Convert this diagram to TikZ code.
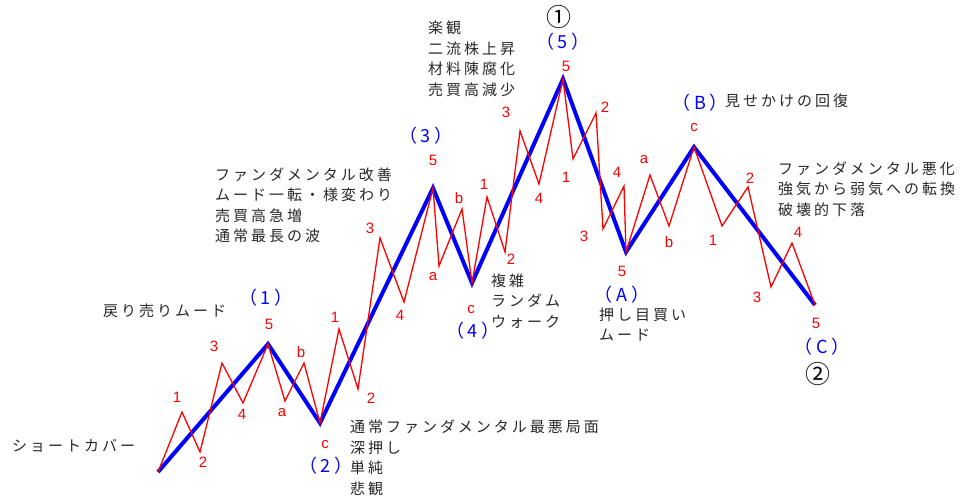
\documentclass[tikz,border=0pt]{standalone}
\usepackage{fontspec}
\usetikzlibrary{positioning}
\newfontfamily\jpfont[LetterSpace=20]{Noto Sans CJK JP}
\newfontfamily\numfont{Liberation Sans}
\definecolor{txtgray}{RGB}{40,40,40}
\tikzset{
  trend/.style={blue, line width=4pt, line join=miter},
  wave/.style={red, line width=1.3pt, line join=miter},
  cnt/.style={text=red, inner sep=0pt, font=\numfont\fontsize{15}{15}\selectfont},
  deg/.style={text=blue, inner sep=0pt, font=\jpfont\fontsize{18}{18}\selectfont},
  note/.style={text=txtgray, inner sep=0pt, align=left, anchor=north west, font=\jpfont\fontsize{15}{20.5}\selectfont},
  mark1/.style={text=black, inner sep=0pt, font=\jpfont\fontsize{25}{25}\selectfont}
}

\begin{document}
\begin{tikzpicture}[x=1pt, y=-1pt]
    \useasboundingbox (0,0) rectangle (973,498);
    % main waves
    \coordinate (t0) at (158,472);
    \coordinate (t1) at (268,344);
    \coordinate (t2) at (320,423);
    \coordinate (t3) at (433,188);
    \coordinate (t4) at (472,283);
    \coordinate (t5) at (563,79);
    \coordinate (tA) at (626,252);
    \coordinate (tB) at (694,147);
    \coordinate (tC) at (815,305);
    % sub waves
    \coordinate (w1a) at (182,412); \coordinate (w1b) at (200,452);
    \coordinate (w1c) at (222,363); \coordinate (w1d) at (243,403);
    \coordinate (w2a) at (285,401); \coordinate (w2b) at (304,363);
    \coordinate (w3a) at (339,329); \coordinate (w3b) at (358,389);
    \coordinate (w3c) at (380,238); \coordinate (w3d) at (404,302);
    \coordinate (w4a) at (439,266); \coordinate (w4b) at (462,209);
    \coordinate (w5a) at (487,197); \coordinate (w5b) at (505,252);
    \coordinate (w5c) at (520,131); \coordinate (w5d) at (539,184);
    \coordinate (wAa) at (573,159); \coordinate (wAb) at (596,113);
    \coordinate (wAc) at (603,229); \coordinate (wAd) at (624,186);
    \coordinate (wBa) at (650,175); \coordinate (wBb) at (669,226);
    \coordinate (wCa) at (722,226); \coordinate (wCb) at (748,187);
    \coordinate (wCc) at (771,287); \coordinate (wCd) at (792,243);

    \draw[trend] (t0) -- (t1) -- (t2) -- (t3) -- (t4) -- (t5) -- (tA) -- (tB) -- (tC);
    \draw[wave] (t0) -- (w1a) -- (w1b) -- (w1c) -- (w1d) -- (t1)
        -- (w2a) -- (w2b) -- (t2)
        -- (w3a) -- (w3b) -- (w3c) -- (w3d) -- (t3)
        -- (w4a) -- (w4b) -- (t4)
        -- (w5a) -- (w5b) -- (w5c) -- (w5d) -- (t5)
        -- (wAa) -- (wAb) -- (wAc) -- (wAd) -- (tA)
        -- (wBa) -- (wBb) -- (tB)
        -- (wCa) -- (wCb) -- (wCc) -- (wCd) -- (tC);

    % sub wave counts
    \node[cnt] (n1a) at (177,397) {1};
    \node[cnt] (n1b) at (203,462) {2};
    \node[cnt] (n1c) at (214,346) {3};
    \node[cnt] (n1d) at (242,414) {4};
    \node[cnt] (n1e) at (269,324) {5};
    \node[cnt] (n2a) at (282,413) {a};
    \node[cnt] (n2b) at (301,352) {b};
    \node[cnt] (n2c) at (325,445) {c};
    \node[cnt] (n3a) at (335,317) {1};
    \node[cnt] (n3b) at (371,398) {2};
    \node[cnt] (n3c) at (370,228) {3};
    \node[cnt] (n3d) at (400,315) {4};
    \node[cnt] (n3e) at (433,160) {5};
    \node[cnt] (n4a) at (433,277) {a};
    \node[cnt] (n4b) at (459,198) {b};
    \node[cnt] (n4c) at (471,310) {c};
    \node[cnt] (n5a) at (484,184) {1};
    \node[cnt] (n5b) at (511,259) {2};
    \node[cnt] (n5c) at (506,112) {3};
    \node[cnt] (n5d) at (539,198) {4};
    \node[cnt] (n5e) at (566,66) {5};
    \node[cnt] (nAa) at (566,177) {1};
    \node[cnt] (nAb) at (605,107) {2};
    \node[cnt] (nAc) at (584,236) {3};
    \node[cnt] (nAd) at (617,172) {4};
    \node[cnt] (nAe) at (622,271) {5};
    \node[cnt] (nBa) at (644,160) {a};
    \node[cnt] (nBb) at (669,242) {b};
    \node[cnt] (nBc) at (694,128) {c};
    \node[cnt] (nCa) at (713,240) {1};
    \node[cnt] (nCb) at (750,178) {2};
    \node[cnt] (nCc) at (757,297) {3};
    \node[cnt] (nCd) at (798,232) {4};
    \node[cnt] (nCe) at (816,323) {5};

    % degree labels
    \node[deg] (d1) at (266,298) {（1）};
    \node[deg] (d2) at (326,466) {（2）};
    \node[deg] (d3) at (426,136) {（3）};
    \node[deg] (d4) at (473,331) {（4）};
    \node[deg] (d5) at (563,42) {（5）};
    \node[deg] (dA) at (622,295) {（A）};
    \node[deg] (dB) at (700,103) {（B）};
    \node[deg] (dC) at (822,347) {（C）};
    \node[mark1] (top) at (559,17) {①};
    \node[mark1] (bottom) at (818,374) {②};

    % notes
    \node[note, anchor=west] (cover) at (12,446) {ショートカバー};
    \node[note, anchor=west] (rally) at (103,311) {戻り売りムード};
    \node[note] (w3note) at (215,167.5) {ファンダメンタル改善\\ムード一転・様変わり\\売買高急増\\通常最長の波};
    \node[note] (w5note) at (428,21) {楽観\\二流株上昇\\材料陳腐化\\売買高減少};
    \node[note] (w2note) at (350,420) {通常ファンダメンタル最悪局面\\深押し\\単純\\悲観};
    \node[note] (w4note) at (491,273.5) {複雑\\ランダム\\ウォーク};
    \node[note] (wAnote) at (599,307.5) {押し目買い\\ムード};
    \node[note, anchor=west] (wBnote) at (725,101) {見せかけの回復};
    \node[note] (wCnote) at (778,161.5) {ファンダメンタル悪化\\強気から弱気への転換\\破壊的下落};
\end{tikzpicture}
\end{document}
